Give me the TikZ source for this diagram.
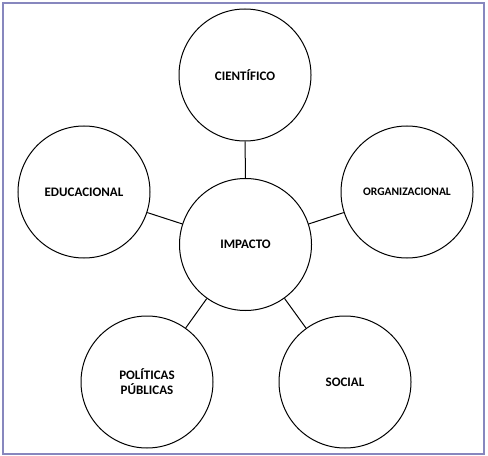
\documentclass[tikz,border=0pt]{standalone}
\usepackage{fontspec}
\setmainfont{Carlito}
\usetikzlibrary{positioning}
\definecolor{framecol}{RGB}{135,135,190}

\begin{document}
\begin{tikzpicture}[x=1bp, y=-1bp,
    every node/.style={font=\bfseries\fontsize{13bp}{15bp}\selectfont},
    area/.style={circle, draw, line width=1bp, minimum size=132bp, inner sep=0pt, align=center},
    link/.style={line width=1bp}]

  \useasboundingbox (0,0) rectangle (488,456);
  \draw[framecol, line width=1.8bp] (3,3) rectangle (484,454);

  \node[area] (imp) at (245.5,244.5) {IMPACTO};
  \node[area] (cie) at (245,75) {CIENTÍFICO};
  \node[area] (edu) at (84,192) {EDUCACIONAL};
  \node[area, font=\bfseries\fontsize{11.5bp}{13.5bp}\selectfont] (org) at (407,192) {ORGANIZACIONAL};
  \node[area] (pol) at (147,382) {POLÍTICAS\\PÚBLICAS};
  \node[area] (soc) at (345,382) {SOCIAL};

  \draw[link] (imp) -- (cie);
  \draw[link] (imp) -- (edu);
  \draw[link] (imp) -- (org);
  \draw[link] (imp) -- (pol);
  \draw[link] (imp) -- (soc);
\end{tikzpicture}
\end{document}
